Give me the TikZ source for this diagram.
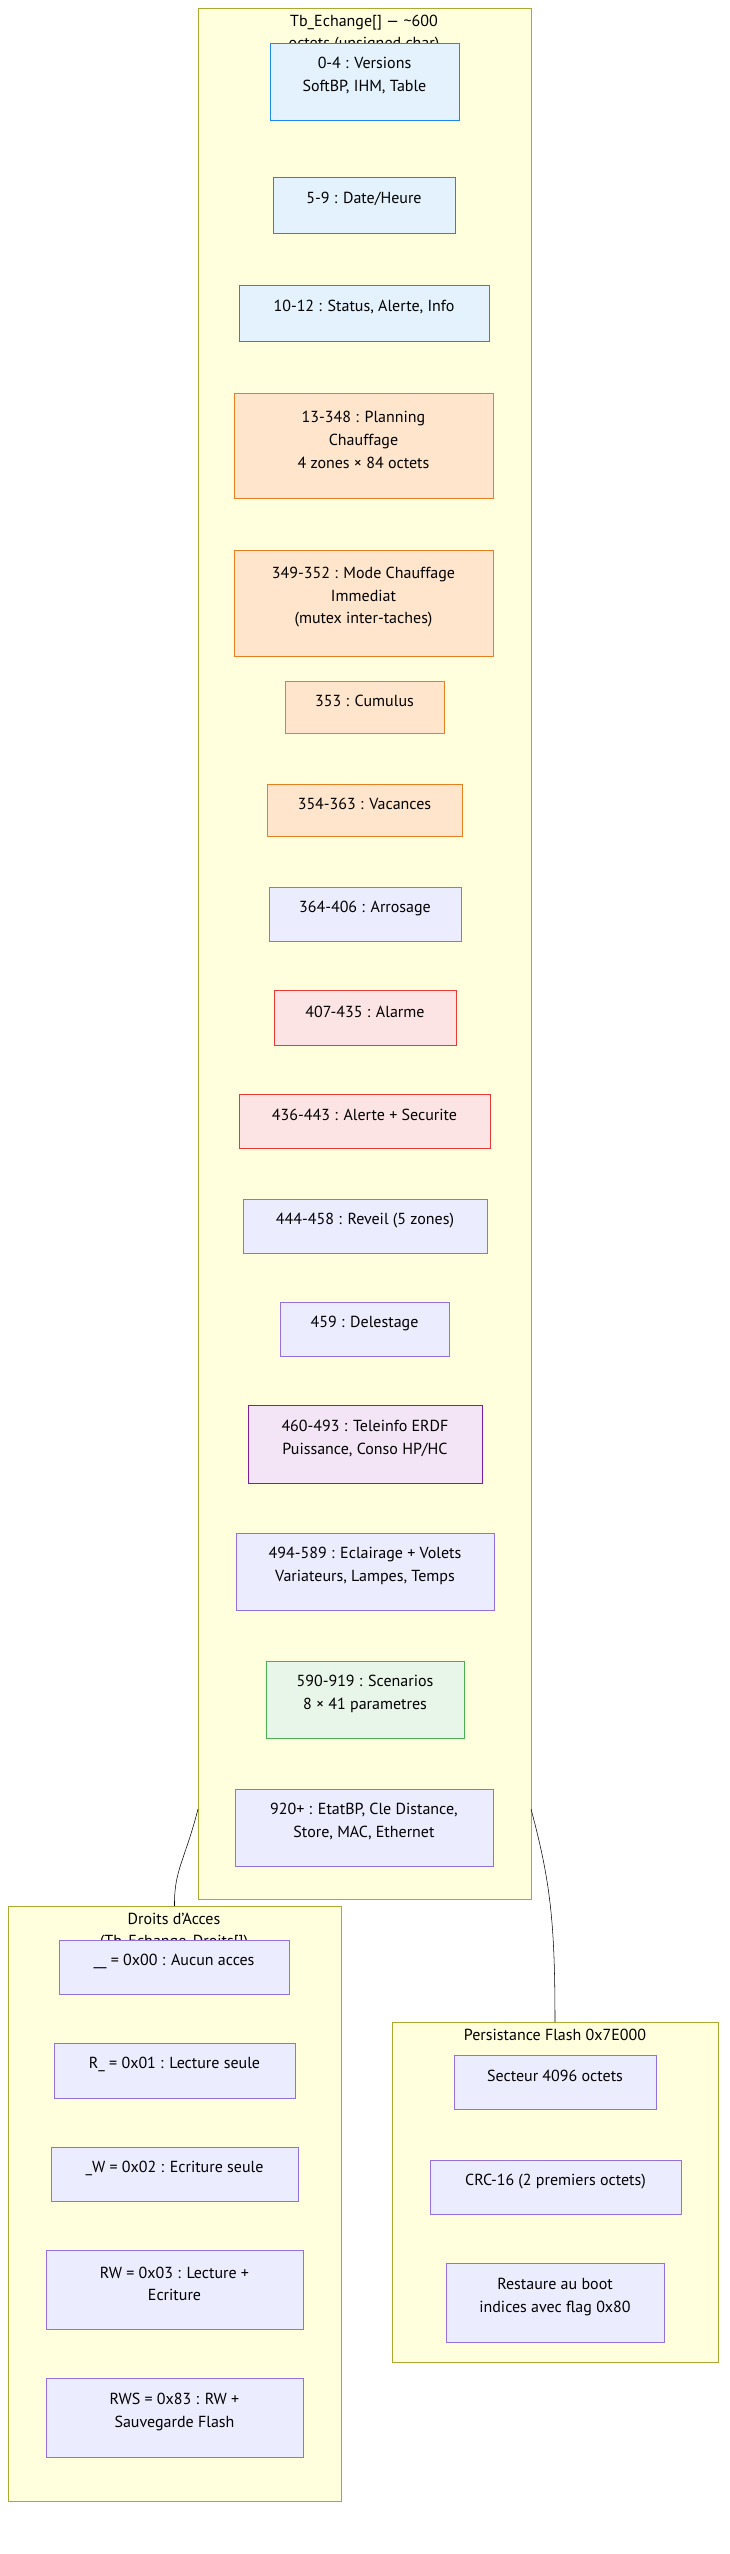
\documentclass[tikz,border=0pt]{standalone}
\usepackage{fontspec}
\setmainfont{PT Sans}
\usetikzlibrary{fit}
\definecolor{grpfill}{HTML}{FFFFDE}
\definecolor{grpline}{HTML}{AAAA33}
\definecolor{bluefill}{HTML}{E3F2FD}
\definecolor{blueline}{HTML}{1E88E5}
\definecolor{orfill}{HTML}{FFE5CC}
\definecolor{orline}{HTML}{E67E22}
\definecolor{lavfill}{HTML}{ECECFF}
\definecolor{lavline}{HTML}{9370DB}
\definecolor{redfill}{HTML}{FDE4E4}
\definecolor{redline}{HTML}{E53935}
\definecolor{violfill}{HTML}{F3E5F5}
\definecolor{violline}{HTML}{7B1FA2}
\definecolor{grfill}{HTML}{E8F5E9}
\definecolor{grline}{HTML}{4CAF50}
\tikzset{
  grp/.style={draw=grpline,fill=grpfill,inner sep=0pt},
  blk/.style={draw=lavline,fill=lavfill,inner sep=0pt,align=center,font=\fontsize{12}{17}\selectfont},
  bleu/.style={blk,draw=blueline,fill=bluefill},
  orange/.style={blk,draw=orline,fill=orfill},
  rouge/.style={blk,draw=redline,fill=redfill},
  violet/.style={blk,draw=violline,fill=violfill},
  vert/.style={blk,draw=grline,fill=grfill},
  ttl/.style={align=center,font=\fontsize{12}{17}\selectfont}
}
\begin{document}
\begin{tikzpicture}[x=0.75pt,y=-0.75pt]
\useasboundingbox (0,0) rectangle (730,2554);
%groups
\node[grp,fit={(198,8) (531,1899)}] (tbech) {};
\node[ttl,anchor=north] (tbtitle) at (364,10) {Tb\_Echange[] — \textasciitilde600\\octets (unsigned char)};
\node[grp,fit={(8,1906) (341,2501)}] (droits) {};
\node[ttl,anchor=north] (drtitle) at (174,1908) {Droits d'Acces\\(Tb\_Echange\_Droits[])};
\node[grp,fit={(392,2022) (718,2362)}] (flash) {};
\node[ttl,anchor=north] (fltitle) at (555,2024) {Persistance Flash 0x7E000};

%table of exchange
\node[bleu,fit={(270,43) (459,120)}] (vers) {0-4 : Versions\\SoftBP, IHM, Table};
\node[bleu,fit={(273,177) (455,233)}] (date) {5-9 : Date/Heure};
\node[bleu,fit={(239,285) (489,341)}] (stat) {10-12 : Status, Alerte, Info};
\node[orange,fit={(234,393) (493,498)}] (plan) {13-348 : Planning\\Chauffage\\4 zones × 84 octets};
\node[orange,fit={(234,550) (493,656)}] (mode) {349-352 : Mode Chauffage\\Immediat\\(mutex inter-taches)};
\node[orange,fit={(285,681) (444,733)}] (cumu) {353 : Cumulus};
\node[orange,fit={(267,784) (462,836)}] (vac) {354-363 : Vacances};
\node[blk,fit={(269,887) (461,941)}] (arro) {364-406 : Arrosage};
\node[rouge,fit={(274,990) (456,1045)}] (alarm) {407-435 : Alarme};
\node[rouge,fit={(239,1094) (490,1148)}] (secu) {436-443 : Alerte + Securite};
\node[blk,fit={(243,1199) (487,1253)}] (rev) {444-458 : Reveil (5 zones)};
\node[blk,fit={(280,1302) (449,1356)}] (del) {459 : Delestage};
\node[violet,fit={(248,1405) (482,1483)}] (tic) {460-493 : Teleinfo ERDF\\Puissance, Conso HP/HC};
\node[blk,fit={(236,1533) (494,1610)}] (ecl) {494-589 : Eclairage + Volets\\Variateurs, Lampes, Temps};
\node[vert,fit={(266,1661) (464,1738)}] (scen) {590-919 : Scenarios\\8 × 41 parametres};
\node[blk,fit={(235,1789) (493,1866)}] (etat) {920+ : EtatBP, Cle Distance,\\Store, MAC, Ethernet};

%access rights
\node[blk,fit={(59,1940) (289,1994)}] (aucun) {\_\_ = 0x00 : Aucun acces};
\node[blk,fit={(54,2043) (295,2098)}] (lect) {R\_ = 0x01 : Lecture seule};
\node[blk,fit={(51,2147) (298,2201)}] (ecr) {\_W = 0x02 : Ecriture seule};
\node[blk,fit={(46,2250) (303,2329)}] (rw) {RW = 0x03 : Lecture +\\Ecriture};
\node[blk,fit={(46,2378) (303,2457)}] (rws) {RWS = 0x83 : RW +\\Sauvegarde Flash};

%flash
\node[blk,fit={(454,2055) (656,2109)}] (sect) {Secteur 4096 octets};
\node[blk,fit={(430,2160) (681,2214)}] (crc) {CRC-16 (2 premiers octets)};
\node[blk,fit={(446,2263) (664,2342)}] (boot) {Restaure au boot\\indices avec flag 0x80};

\coordinate (tbL) at (198,1809);
\coordinate (tbR) at (531,1809);
\draw[thin] (tbL) .. controls (185,1860) and (174,1870) .. (droits.north);
\draw[thin] (tbR) .. controls (550,1880) and (555,1920) .. (flash.north);
\end{tikzpicture}
\end{document}
